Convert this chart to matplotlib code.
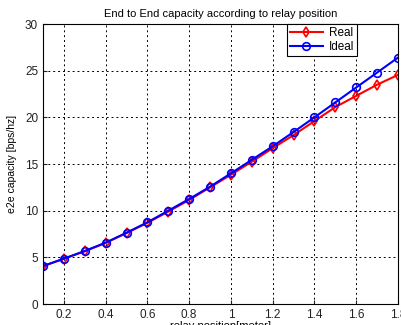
import matplotlib
matplotlib.use("Agg")
import matplotlib.pyplot as plt
from matplotlib.ticker import FuncFormatter

x = [0.1, 0.2, 0.3, 0.4, 0.5, 0.6, 0.7, 0.8, 0.9, 1.0, 1.1, 1.2, 1.3, 1.4, 1.5, 1.6, 1.7, 1.8]
real = [4.05, 4.85, 5.65, 6.55, 7.6, 8.7, 9.9, 11.15, 12.5, 13.85, 15.25, 16.7, 18.1, 19.6, 21.1, 22.3, 23.5, 24.55]
ideal = [4.07, 4.86, 5.68, 6.57, 7.64, 8.75, 10.0, 11.25, 12.57, 14.0, 15.45, 16.9, 18.43, 20.0, 21.6, 23.2, 24.8, 26.4]
xticks = [0.2, 0.4, 0.6, 0.8, 1.0, 1.2, 1.4, 1.6, 1.8]
yticks = [0, 5, 10, 15, 20, 25, 30]

plt.rcParams['font.family'] = ['Liberation Sans', 'DejaVu Sans']
fig = plt.figure(figsize=(4.01, 3.25), dpi=100)
ax = fig.add_axes([0.1072, 0.0646, 0.8853, 0.8615])

ax.plot(x, real, color='red', marker='d', mfc='none', mec='red', ms=5.5, lw=1.5, mew=1.2, label='Real')
ax.plot(x, ideal, color='blue', marker='o', mfc='none', mec='blue', ms=5.5, lw=1.5, mew=1.2, label='Ideal')

ax.set_xlim(0.1, 1.8)
ax.set_ylim(0, 30)
ax.set_xticks(xticks)
ax.set_yticks(yticks)
ax.xaxis.set_major_formatter(FuncFormatter(lambda v, p: '%g' % v))
ax.tick_params(direction='in', labelsize=8.5, length=3, colors='#222222')
ax.grid(True, linestyle=(0, (2, 3)), color='black', linewidth=0.7)
for s in ax.spines.values():
    s.set_linewidth(0.8)

ax.set_title('End to End capacity according to relay position', fontsize=8, pad=5)
ax.set_xlabel('relay position[meter]', fontsize=8, labelpad=0)
ax.set_ylabel('e2e capacity [bps/hz]', fontsize=7.5, labelpad=6)

leg = ax.legend(loc='upper right', bbox_to_anchor=(0.885, 1.0), fontsize=8.5, fancybox=False,
                framealpha=1, edgecolor='black', borderpad=0.25, handlelength=2.8,
                labelspacing=0.2, borderaxespad=0, handletextpad=0.5)
leg.get_frame().set_linewidth(0.8)

fig.savefig('out.png', dpi=100)
